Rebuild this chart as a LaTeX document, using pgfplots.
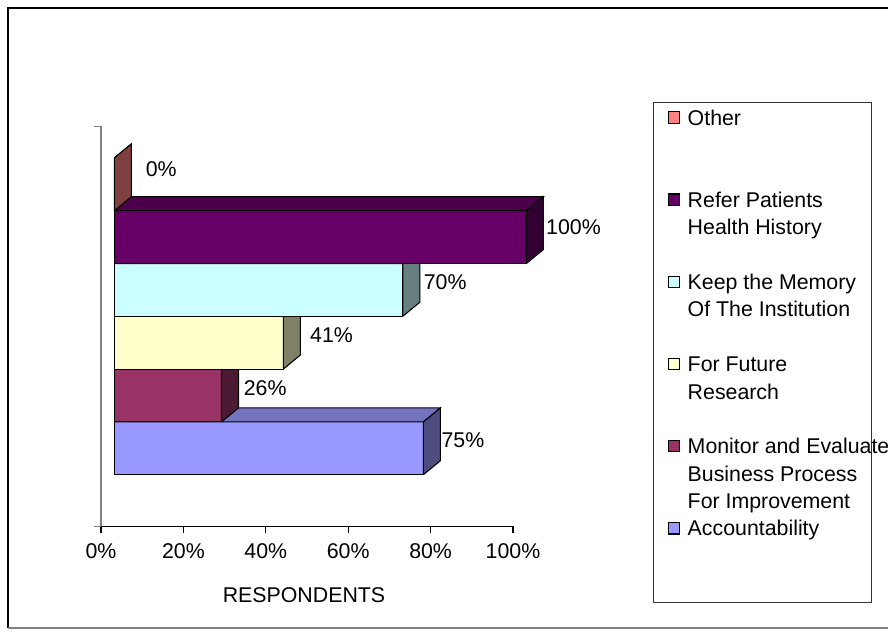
\documentclass[border=0pt]{standalone}
\usepackage{pgfplots}
\pgfplotsset{compat=1.18}
\usepackage{fontspec}
\setmainfont{Liberation Sans}
\definecolor{accF}{HTML}{9999FF}\definecolor{accT}{HTML}{7373BF}\definecolor{accS}{HTML}{4D4D80}
\definecolor{monF}{HTML}{993366}\definecolor{monT}{HTML}{73264C}\definecolor{monS}{HTML}{4D1A33}
\definecolor{futF}{HTML}{FFFFCC}\definecolor{futT}{HTML}{BFBF99}\definecolor{futS}{HTML}{808066}
\definecolor{kepF}{HTML}{CCFFFF}\definecolor{kepT}{HTML}{99BFBF}\definecolor{kepS}{HTML}{668080}
\definecolor{refF}{HTML}{660066}\definecolor{refT}{HTML}{4C004C}\definecolor{refS}{HTML}{330033}
\definecolor{othF}{HTML}{FF8080}\definecolor{othT}{HTML}{BF6060}\definecolor{othS}{HTML}{804040}
\newcommand\F{\fontsize{16}{20.6}\selectfont}
% #1 value (%), #2 bottom of front face, #3 front, #4 top, #5 side colour
\newcommand\threedbar[5]{%
  \pgfmathsetmacro\L{3.25}%
  \pgfmathsetmacro\R{3.25+#1}%
  \pgfmathsetmacro\Rd{\R+4.13}%
  \pgfmathsetmacro\Ld{\L+4.13}%
  \pgfmathsetmacro\B{#2}%
  \pgfmathsetmacro\T{#2+52.8}%
  \pgfmathsetmacro\Bd{\B+14}%
  \pgfmathsetmacro\Td{\T+14}%
  \edef\tmp{%
    \noexpand\addplot[draw=black, line width=0.8pt, line join=miter, fill=#3] coordinates {(\L,\B) (\R,\B) (\R,\T) (\L,\T) (\L,\B)};
    \noexpand\addplot[forget plot, draw=black, line width=0.8pt, line join=miter, fill=#4] coordinates {(\L,\T) (\R,\T) (\Rd,\Td) (\Ld,\Td) (\L,\T)};
    \noexpand\addplot[forget plot, draw=black, line width=0.8pt, line join=miter, fill=#5] coordinates {(\R,\B) (\Rd,\Bd) (\Rd,\Td) (\R,\T) (\R,\B)};
  }\tmp}
\newcommand\LE[1]{\raisebox{0pt}[\height][0pt]{\parbox[t]{160pt}{\F\raggedright\strut #1}}}
\begin{document}
\begin{tikzpicture}
\useasboundingbox (0,0) rectangle (666pt,476.25pt);
\draw[black, line width=1.5pt] (6pt,5.25pt) -- (6pt,470.25pt) -- (666pt,470.25pt);
\draw[gray, line width=1.5pt] (6pt,5.25pt) -- (666pt,5.25pt);
\draw[black!80, line width=0.75pt] (489.75pt,24.2pt) rectangle (653.25pt,399.4pt);
\begin{axis}[
  at={(75.75pt,81.375pt)}, anchor=south west,
  scale only axis, width=309pt, height=300pt,
  xmin=0, xmax=100, ymin=0, ymax=400,
  clip=false,
  axis x line*=bottom, axis y line*=left,
  x axis line style={black, line width=0.8pt, -},
  y axis line style={gray, line width=0.8pt, -},
  xtick={0,20,40,60,80,100},
  xticklabels={0\%,20\%,40\%,60\%,80\%,100\%},
  ytick={0,400}, yticklabels={,,},
  tick align=outside, major tick length=5pt,
  xtick style={black, line width=0.8pt},
  ytick style={gray, line width=0.8pt},
  /pgf/number format/assume math mode=true,
  every tick label/.append style={font=\F},
  xticklabel style={anchor=north, inner sep=0pt, yshift=-8pt},
  xlabel={RESPONDENTS},
  xlabel style={font=\F, at={(axis description cs:0.4927,-0.171)}, anchor=center, inner sep=0pt},
  reverse legend,
  legend style={at={(axis description cs:1.3762,1.058)}, anchor=north west, draw=none, fill=none,
    inner sep=0pt, outer sep=0pt, cells={anchor=base west, inner sep=0pt}, row sep=41.7pt, column sep=3.5pt, font=\F},
  legend image code/.code={\draw[#1] (0pt,1.5pt) rectangle (8.5pt,10pt);},
]
\threedbar{75}{51.8}{accF}{accT}{accS}
\threedbar{26}{104.6}{monF}{monT}{monS}
\threedbar{41}{157.4}{futF}{futT}{futS}
\threedbar{70}{210.2}{kepF}{kepT}{kepS}
\threedbar{100}{263.0}{refF}{refT}{refS}
\threedbar{0}{315.8}{othF}{othT}{othS}
\addlegendentry{\LE{Accountability}}
\addlegendentry{\LE{Monitor and Evaluate\\Business Process\\For Improvement}}
\addlegendentry{\LE{For Future\\Research}}
\addlegendentry{\LE{Keep the Memory\\Of The Institution}}
\addlegendentry{\LE{Refer Patients\\Health History}}
\addlegendentry{\LE{Other}}
\node[font=\F, anchor=west, inner sep=0pt] at (axis cs:10.8,357.5) {0\%};
\node[font=\F, anchor=west, inner sep=0pt] at (axis cs:108.0,299.5) {100\%};
\node[font=\F, anchor=west, inner sep=0pt] at (axis cs:78.3,244.5) {70\%};
\node[font=\F, anchor=west, inner sep=0pt] at (axis cs:50.7,191.5) {41\%};
\node[font=\F, anchor=west, inner sep=0pt] at (axis cs:34.6,138.5) {26\%};
\node[font=\F, anchor=west, inner sep=0pt] at (axis cs:82.6,85.9) {75\%};
\end{axis}
\end{tikzpicture}
\end{document}
